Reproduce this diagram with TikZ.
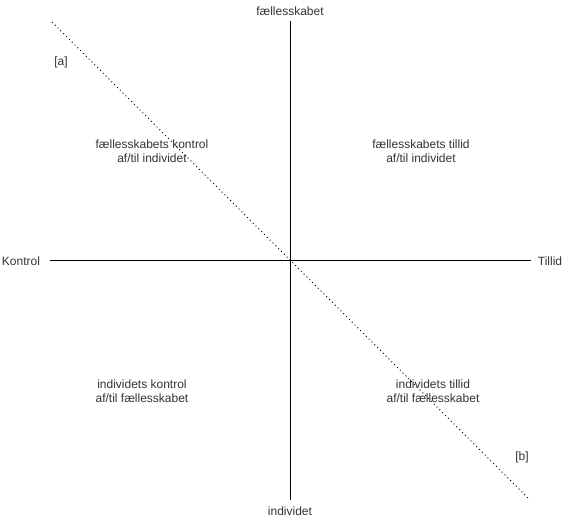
\documentclass[tikz,border=0pt]{standalone}
\usepackage{fontspec}
\setmainfont{Liberation Sans}
\begin{document}
\begin{tikzpicture}[x=1pt, y=-1pt,
		every node/.style={text=black!80, font=\fontsize{12}{14}\selectfont},
		axis/.style={line width=1pt, black},
		diag/.style={line width=1pt, black, dash pattern=on 1pt off 3pt},
		quad/.style={align=center}
		]
	\useasboundingbox (0,0) rectangle (571,522);
	% axes
	\coordinate (n) at (290,21);
	\coordinate (s) at (290,500);
	\coordinate (w) at (50,260);
	\coordinate (e) at (531,260);
	\draw [axis] (n) -- (s);
	\draw [axis] (w) -- (e);
	\node (top) at (290,11) {fællesskabet};
	\node (bottom) at (290,511) {individet};
	\node (kontrol) at (21,261) {Kontrol};
	\node (tillid) at (550,261) {Tillid};
	% diagonal
	\coordinate (da) at (52,22);
	\coordinate (db) at (530,500);
	\draw [diag] (da) -- (db);
	\node (a) at (61,62) {[a]};
	\node (b) at (522,457) {[b]};
	% quadrants
	\node [quad] (fk) at (152,151) {fællesskabets kontrol\\af/til individet};
	\node [quad] (ft) at (421,151) {fællesskabets tillid\\af/til individet};
	\node [quad] (ik) at (142,391) {individets kontrol\\af/til fællesskabet};
	\node [quad] (it) at (433,391) {individets tillid\\af/til fællesskabet};
\end{tikzpicture}
\end{document}
